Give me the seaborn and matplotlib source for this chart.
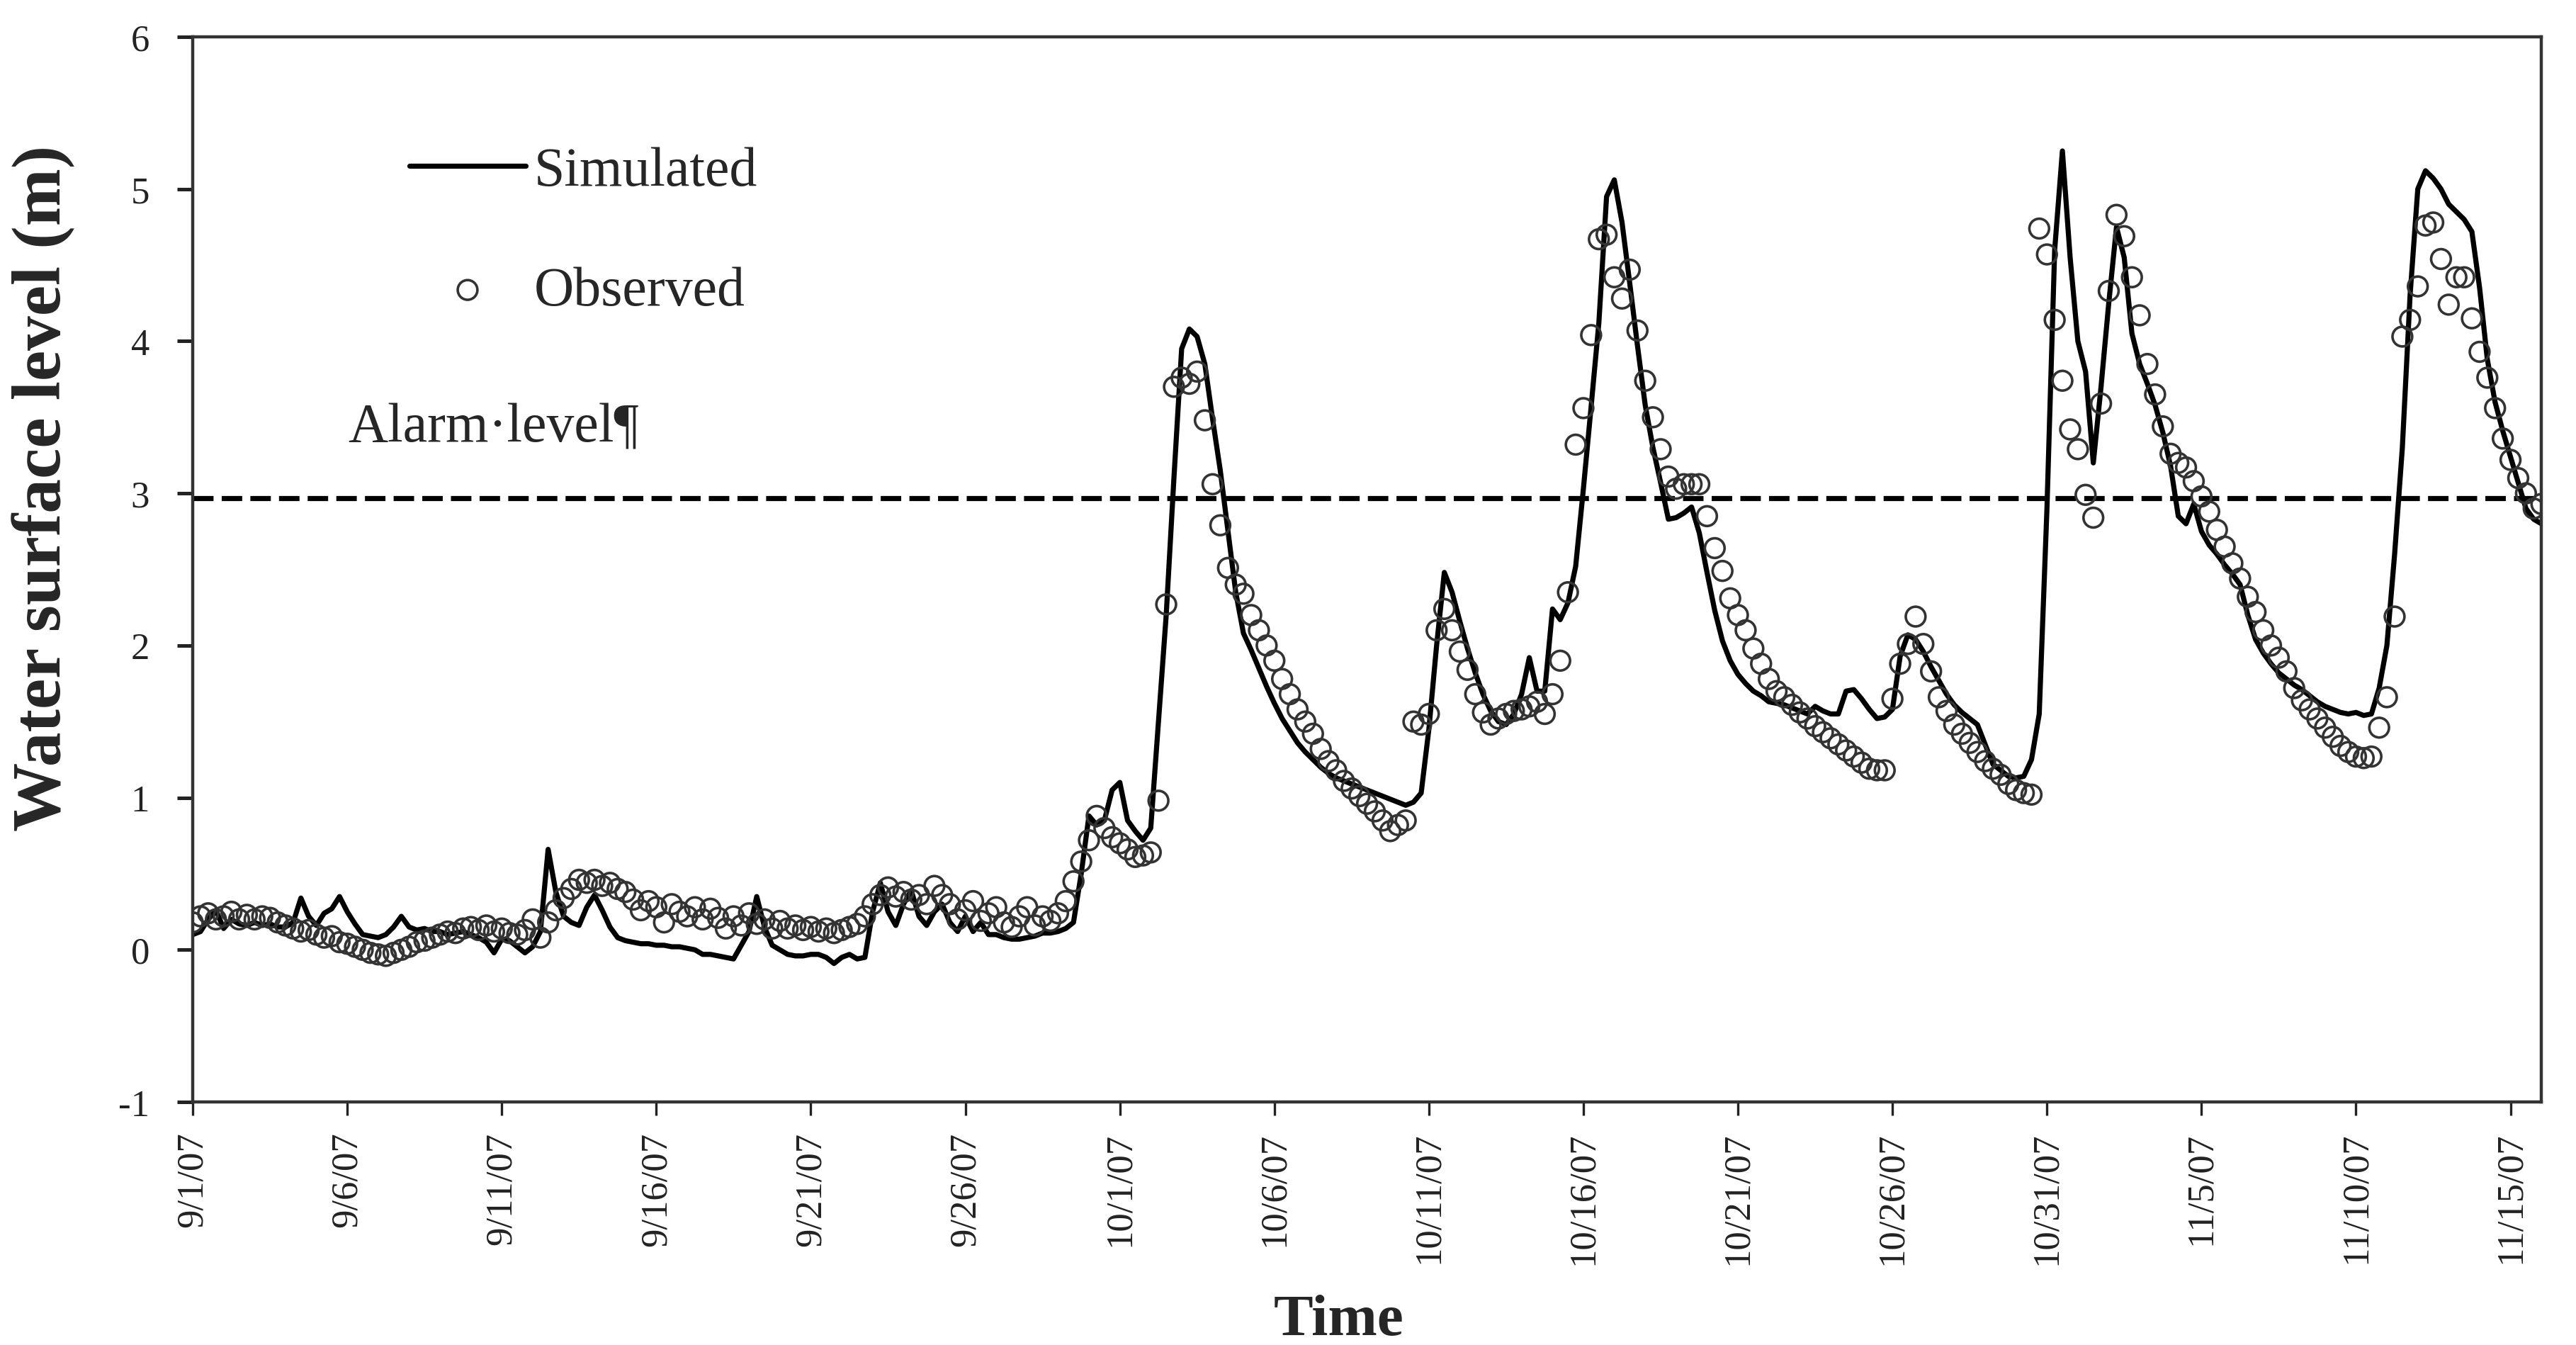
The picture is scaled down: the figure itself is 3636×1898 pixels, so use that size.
import matplotlib
matplotlib.use("Agg")
import matplotlib.pyplot as plt
import pandas as pd
import seaborn as sns

# water level every 6 hours from 9/1/07 00:00 (4 values per day)
start_time = "2007-09-01"
step = "6h"

sim_level = [
    0.10, 0.12, 0.20, 0.26,  0.14, 0.20, 0.17, 0.16,  0.18, 0.16, 0.17, 0.15,
    0.15, 0.18, 0.34, 0.22,  0.16, 0.24, 0.27, 0.35,  0.25, 0.17, 0.10, 0.09,
    0.08, 0.10, 0.15, 0.22,  0.15, 0.13, 0.14, 0.12,  0.12, 0.10, 0.11, 0.12,
    0.10, 0.08, 0.05, -0.02, 0.07, 0.06, 0.02, -0.02, 0.02, 0.12, 0.66, 0.38,
    0.22, 0.18, 0.16, 0.28,  0.36, 0.26, 0.15, 0.08,  0.06, 0.05, 0.04, 0.04,
    0.03, 0.03, 0.02, 0.02,  0.01, 0.00, -0.03, -0.03, -0.04, -0.05, -0.06, 0.03,
    0.12, 0.35, 0.15, 0.03,  0.00, -0.03, -0.04, -0.04, -0.03, -0.03, -0.05, -0.09,
    -0.05, -0.03, -0.06, -0.05, 0.25, 0.44, 0.25, 0.16, 0.30, 0.39, 0.22, 0.16,
    0.25, 0.30, 0.18, 0.12,  0.22, 0.12, 0.18, 0.10,  0.10, 0.08, 0.07, 0.07,
    0.08, 0.09, 0.11, 0.11,  0.12, 0.14, 0.18, 0.50,  0.88, 0.82, 0.85, 1.05,
    1.10, 0.85, 0.78, 0.72,  0.80, 1.50, 2.20, 3.10,  3.95, 4.08, 4.03, 3.85,
    3.49, 3.15, 2.75, 2.35,  2.08, 1.97, 1.85, 1.73,  1.62, 1.52, 1.44, 1.36,
    1.30, 1.25, 1.20, 1.16,  1.13, 1.11, 1.09, 1.07,  1.05, 1.03, 1.01, 0.99,
    0.97, 0.95, 0.97, 1.03,  1.45, 2.00, 2.48, 2.35,  2.16, 1.98, 1.82, 1.68,
    1.57, 1.50, 1.48, 1.55,  1.68, 1.92, 1.70, 1.70,  2.24, 2.17, 2.28, 2.52,
    3.03, 3.57, 4.12, 4.95,  5.06, 4.78, 4.38, 3.97,  3.58, 3.30, 3.07, 2.83,
    2.84, 2.87, 2.91, 2.74,  2.48, 2.23, 2.03, 1.90,  1.81, 1.75, 1.70, 1.67,
    1.63, 1.62, 1.61, 1.59,  1.57, 1.55, 1.60, 1.57,  1.55, 1.55, 1.70, 1.71,
    1.65, 1.58, 1.52, 1.53,  1.58, 1.93, 2.07, 2.04,  1.96, 1.86, 1.77, 1.68,
    1.61, 1.56, 1.52, 1.48,  1.35, 1.22, 1.18, 1.14,  1.13, 1.14, 1.25, 1.55,
    2.90, 4.60, 5.25, 4.55,  4.00, 3.80, 3.20, 3.70,  4.25, 4.75, 4.55, 4.05,
    3.85, 3.72, 3.58, 3.40,  3.18, 2.85, 2.80, 2.93,  2.75, 2.66, 2.60, 2.53,
    2.47, 2.40, 2.20, 2.04,  1.95, 1.88, 1.82, 1.78,  1.74, 1.71, 1.67, 1.63,
    1.60, 1.58, 1.56, 1.55,  1.56, 1.54, 1.55, 1.72,  2.00, 2.60, 3.30, 4.30,
    5.00, 5.12, 5.07, 5.00,  4.90, 4.85, 4.80, 4.72,  4.35, 3.88, 3.60, 3.41,
    3.24, 3.07, 2.90, 2.83,  2.80,
]

obs_level = [
    0.18, 0.22, 0.24, 0.20,  0.22, 0.25, 0.20, 0.23,  0.20, 0.22, 0.21, 0.18,
    0.16, 0.14, 0.12, 0.13,  0.10, 0.08, 0.09, 0.05,  0.04, 0.02, 0.00, -0.02,
    -0.03, -0.04, -0.02, 0.00, 0.02, 0.05, 0.06, 0.08, 0.10, 0.12, 0.11, 0.14,
    0.15, 0.13, 0.16, 0.12,  0.14, 0.11, 0.10, 0.13,  0.20, 0.08, 0.18, 0.26,
    0.34, 0.40, 0.46, 0.44,  0.46, 0.42, 0.44, 0.40,  0.38, 0.33, 0.26, 0.32,
    0.28, 0.18, 0.30, 0.25,  0.22, 0.28, 0.20, 0.27,  0.21, 0.14, 0.22, 0.16,
    0.24, 0.17, 0.20, 0.14,  0.19, 0.14, 0.16, 0.13,  0.15, 0.12, 0.14, 0.11,
    0.13, 0.15, 0.17, 0.22,  0.30, 0.36, 0.41, 0.35,  0.38, 0.33, 0.36, 0.30,
    0.42, 0.36, 0.30, 0.20,  0.26, 0.32, 0.19, 0.24,  0.28, 0.18, 0.15, 0.22,
    0.28, 0.16, 0.22, 0.19,  0.24, 0.32, 0.45, 0.58,  0.72, 0.88, 0.80, 0.74,
    0.70, 0.66, 0.61, 0.62,  0.64, 0.98, 2.27, 3.70,  3.76, 3.72, 3.80, 3.48,
    3.06, 2.79, 2.51, 2.40,  2.34, 2.20, 2.10, 2.00,  1.90, 1.78, 1.68, 1.58,
    1.50, 1.42, 1.32, 1.24,  1.18, 1.11, 1.06, 1.01,  0.96, 0.91, 0.85, 0.78,
    0.82, 0.85, 1.50, 1.48,  1.55, 2.10, 2.24, 2.10,  1.96, 1.84, 1.68, 1.56,
    1.48, 1.52, 1.55, 1.57,  1.58, 1.60, 1.63, 1.55,  1.68, 1.90, 2.35, 3.32,
    3.56, 4.04, 4.67, 4.70,  4.42, 4.28, 4.47, 4.07,  3.74, 3.50, 3.29, 3.11,
    3.03, 3.06, 3.06, 3.06,  2.85, 2.64, 2.49, 2.31,  2.20, 2.10, 1.98, 1.88,
    1.78, 1.70, 1.66, 1.61,  1.56, 1.52, 1.47, 1.43,  1.39, 1.35, 1.31, 1.27,
    1.23, 1.19, 1.18, 1.18,  1.65, 1.88, 2.01, 2.19,  2.01, 1.83, 1.66, 1.57,
    1.48, 1.42, 1.36, 1.30,  1.24, 1.19, 1.15, 1.09,  1.05, 1.03, 1.02, 4.74,
    4.57, 4.14, 3.74, 3.42,  3.29, 2.99, 2.84, 3.59,  4.33, 4.83, 4.69, 4.42,
    4.17, 3.85, 3.65, 3.44,  3.26, 3.20, 3.17, 3.08,  2.98, 2.88, 2.76, 2.65,
    2.54, 2.44, 2.32, 2.22,  2.10, 2.00, 1.92, 1.83,  1.72, 1.64, 1.58, 1.52,
    1.46, 1.40, 1.34, 1.30,  1.27, 1.26, 1.27, 1.46,  1.66, 2.19, 4.03, 4.14,
    4.36, 4.76, 4.78, 4.54,  4.24, 4.42, 4.42, 4.15,  3.93, 3.76, 3.56, 3.36,
    3.22, 3.10, 3.00, 2.90,  2.93,
]

alarm_level = 2.97

tick_dates = ["2007-09-01", "2007-09-06", "2007-09-11", "2007-09-16",
              "2007-09-21", "2007-09-26", "2007-10-01", "2007-10-06",
              "2007-10-11", "2007-10-16", "2007-10-21", "2007-10-26",
              "2007-10-31", "2007-11-05", "2007-11-10", "2007-11-15"]
tick_labels = ["9/1/07", "9/6/07", "9/11/07", "9/16/07", "9/21/07", "9/26/07",
               "10/1/07", "10/6/07", "10/11/07", "10/16/07", "10/21/07",
               "10/26/07", "10/31/07", "11/5/07", "11/10/07", "11/15/07"]

times = pd.date_range(start_time, periods=len(sim_level), freq=step)
df = pd.DataFrame({"time": times, "simulated": sim_level, "observed": obs_level})

sns.set_theme(style="white")
plt.rcParams["font.family"] = ["Liberation Serif", "DejaVu Serif"]
plt.rcParams["axes.unicode_minus"] = False

fig = plt.figure(figsize=(18.185, 9.495), dpi=200)
ax = fig.add_axes([0.0748, 0.1806, 0.9115, 0.7915])

sns.lineplot(data=df, x="time", y="simulated", color="black", linewidth=2.6,
             label="Simulated", ax=ax, sort=False)
sns.scatterplot(data=df, x="time", y="observed", marker="o", s=100,
                facecolors="none", edgecolor="#333333", linewidth=1.3,
                label="Observed", ax=ax, zorder=3)
ax.axhline(alarm_level, color="black", linewidth=2.6, dashes=(4, 1.6))

ax.text(0.066, 3.43, "Alarm·level¶", transform=ax.get_yaxis_transform(),
        fontsize=28, va="center", ha="left")

ax.set_xlim(pd.Timestamp("2007-09-01"), pd.Timestamp("2007-11-16"))
ax.set_ylim(-1, 6)
ax.set_yticks(range(-1, 7))
ax.set_xticks(pd.to_datetime(tick_dates))
ax.set_xticklabels(tick_labels, rotation=90)

ax.tick_params(axis="x", bottom=True, direction="out", length=7, width=1.2,
               pad=8, labelsize=19, colors="#222222")
ax.tick_params(axis="y", left=True, direction="out", length=8, width=1.8,
               pad=14, labelsize=19, colors="#222222")
for sp in ax.spines.values():
    sp.set_visible(True)
    sp.set_color("#333333")
    sp.set_linewidth(1.6)

ax.set_xlabel("Time", fontsize=30, fontweight="bold")
ax.set_ylabel("Water surface level (m)", fontsize=35, fontweight="bold")
ax.xaxis.set_label_coords(0.488, -0.18)
ax.yaxis.set_label_coords(-0.05, 0.577)

ax.legend(loc="upper left", bbox_to_anchor=(0.083, 0.918), borderaxespad=0,
          frameon=False, fontsize=28, handlelength=2.1, handletextpad=0.15,
          labelspacing=1.25)

fig.savefig("out.png", dpi=200)
plt.close(fig)
